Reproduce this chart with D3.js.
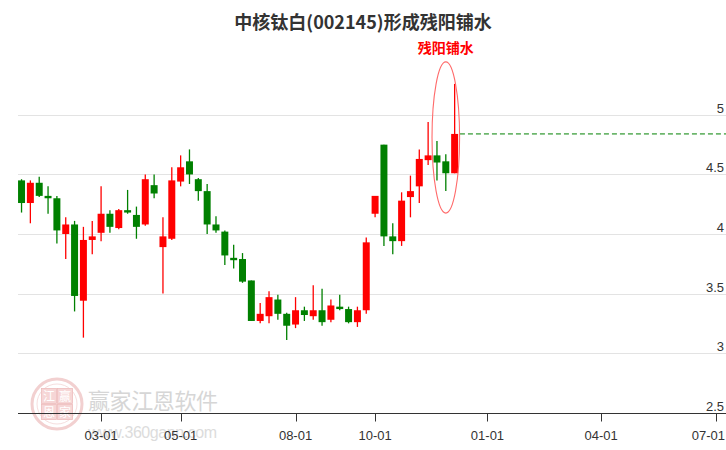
<!DOCTYPE html>
<html><head><meta charset="utf-8">
<script src="https://cdn.jsdelivr.net/npm/d3@7/dist/d3.min.js"></script>
<style>body{margin:0;background:#fff}svg{display:block}</style>
</head><body><svg id="c" width="726" height="450"></svg>
<script>
// ---- data (weekly bars, labelled by week-ending Sunday) ----
const weekDates = ["2019-12-22","2019-12-29","2020-01-05","2020-01-12","2020-01-19","2020-01-26",
  "2020-02-09","2020-02-16","2020-02-23","2020-03-01","2020-03-08","2020-03-15","2020-03-22","2020-03-29",
  "2020-04-05","2020-04-12","2020-04-19","2020-04-26","2020-05-03","2020-05-10","2020-05-17","2020-05-24",
  "2020-05-31","2020-06-07","2020-06-14","2020-06-21","2020-06-28","2020-07-05","2020-07-12","2020-07-19",
  "2020-07-26","2020-08-02","2020-08-09","2020-08-16","2020-08-23","2020-08-30","2020-09-06","2020-09-13",
  "2020-09-20","2020-09-27","2020-10-04","2020-10-11","2020-10-18","2020-10-25","2020-11-01","2020-11-08",
  "2020-11-15","2020-11-22","2020-11-29","2020-12-06"];
const openP  = [4.45,4.26,4.43,4.32,4.30,4.00,4.08,3.44,3.95,4.01,4.17,4.05,4.20,4.16,4.08,4.41,3.89,3.96,4.44,4.61,
  4.46,4.36,4.08,4.02,3.80,3.79,3.61,3.27,3.31,3.45,3.33,3.24,3.36,3.31,3.36,3.28,3.39,3.37,3.26,3.36,
  4.17,4.75,3.98,3.94,4.31,4.40,4.62,4.66,4.61,4.51];
const highP  = [4.46,4.45,4.48,4.40,4.32,4.14,4.11,4.06,4.11,4.40,4.20,4.21,4.37,4.23,4.50,4.50,4.14,4.56,4.66,4.71,
  4.47,4.42,4.15,4.03,3.91,3.84,3.61,3.42,3.52,3.49,3.34,3.47,3.39,3.57,3.54,3.45,3.49,3.39,3.39,3.97,
  4.32,4.75,4.09,4.35,4.49,4.71,4.94,4.78,4.67,5.26];
const lowP   = [4.18,4.09,4.31,4.17,3.92,3.79,3.35,3.13,3.83,3.94,4.01,4.04,4.17,3.96,4.07,4.30,3.50,3.95,4.40,4.42,
  4.28,4.00,4.01,3.74,3.71,3.59,3.27,3.25,3.25,3.28,3.11,3.21,3.27,3.28,3.23,3.26,3.36,3.25,3.22,3.33,
  4.14,3.90,3.83,3.90,4.14,4.26,4.58,4.45,4.36,4.51];
const closeP = [4.26,4.43,4.32,4.30,4.03,4.08,3.48,3.95,3.98,4.17,4.06,4.20,4.18,4.06,4.46,4.34,3.98,4.45,4.56,4.50,
  4.36,4.08,4.03,3.82,3.78,3.60,3.27,3.33,3.47,3.33,3.23,3.36,3.32,3.36,3.26,3.40,3.37,3.26,3.36,3.93,
  4.32,3.98,3.94,4.28,4.36,4.63,4.66,4.60,4.51,4.84];
const yTicks = [2.5, 3, 3.5, 4, 4.5, 5];
const xTickDates  = ["2020-03-01","2020-05-01","2020-08-01","2020-10-01","2021-01-01","2021-04-01","2021-07-01"];
const xTickLabels = ["03-01","05-01","08-01","10-01","01-01","04-01","07-01"];
const titleText = "中核钛白(002145)形成残阳铺水";
const patternText = "残阳铺水";

// ---- layout ----
const W = 726, H = 450;
const left = 18, right = 726, bottom = 412.7;
const UP = "#ff0000", DOWN = "#008000";
const svg = d3.select("#c");
const parse = d3.timeParse("%Y-%m-%d");
const bars = weekDates.map(parse);
const n = bars.length;
const x = d3.scaleLinear().domain([-0.4, 79.7]).range([left, right]);
const y = d3.scaleLinear().domain([2.5, 5.5]).range([bottom, 55.3]);
const step = x(1) - x(0);
function dateToIndex(d) {
  const last = bars[n - 1];
  if (d > last) return n - 1 + (d - last) / (7 * 864e5);
  return bars.findIndex(b => b >= d);
}

// watermark
const wm = svg.append("g");
wm.append("circle").attr("cx", 57).attr("cy", 404).attr("r", 25)
  .attr("fill", "none").attr("stroke", "#f2d0d0").attr("stroke-width", 3);
wm.append("circle").attr("cx", 57).attr("cy", 404).attr("r", 20)
  .attr("fill", "none").attr("stroke", "#f6dede").attr("stroke-width", 1);
const wmChars = [["江",-8,-8],["赢",8,-8],["恩",-8,8],["家",8,8]];
wmChars.forEach(([c,dx,dy]) => {
  wm.append("rect").attr("x", 57+dx-7.5).attr("y", 404+dy-7.5).attr("width", 15).attr("height", 15)
    .attr("fill", "#f6d6d6").attr("stroke", "#eebcbc").attr("stroke-width", 0.8);
  wm.append("text").attr("x", 57+dx).attr("y", 404+dy+4.5).attr("text-anchor", "middle")
    .attr("font-family", "Noto Sans CJK SC").attr("font-size", 12).attr("fill", "#fff").text(c);
});
wm.append("text").attr("x", 88).attr("y", 409).attr("font-family", "Noto Sans CJK SC")
  .attr("font-size", 22).attr("fill", "#d6d6d6").attr("textLength", 130).text("赢家江恩软件");
wm.append("text").attr("x", 88).attr("y", 438).attr("font-family", "Liberation Sans, Arial")
  .attr("font-size", 16).attr("fill", "#dcdcdc").attr("textLength", 129).text("www.360gann.com");

// gridlines
svg.append("g").selectAll("line").data(yTicks.filter(v => v > 2.5)).join("line")
  .attr("x1", left).attr("x2", right)
  .attr("y1", d => Math.round(y(d)) + 0.5).attr("y2", d => Math.round(y(d)) + 0.5)
  .attr("stroke", "#e3e3e3").attr("stroke-width", 1);

// y labels
svg.append("g").selectAll("text").data(yTicks).join("text")
  .attr("x", 724).attr("y", d => y(d) - 2).attr("text-anchor", "end")
  .attr("font-family", "Liberation Sans, Arial").attr("font-size", 13).attr("fill", "#333")
  .text(d => d3.format("~g")(d));

// x axis
const axisY = Math.round(bottom) + 0.5;
svg.append("line").attr("x1", left).attr("x2", right).attr("y1", axisY).attr("y2", axisY)
  .attr("stroke", "#333").attr("stroke-width", 1);
const ticks = xTickDates.map((d, i) => ({ x: x(dateToIndex(parse(d))), label: xTickLabels[i] }));
const tg = svg.append("g").selectAll("g").data(ticks).join("g");
tg.append("line").attr("x1", d => Math.round(d.x) + 0.5).attr("x2", d => Math.round(d.x) + 0.5)
  .attr("y1", axisY).attr("y2", axisY + 8).attr("stroke", "#333");
tg.append("text").attr("y", 440).attr("text-anchor", "middle")
  .attr("font-family", "Liberation Sans, Arial").attr("font-size", 13).attr("fill", "#333")
  .text(d => d.label)
  .attr("x", function(d) {
    const w = this.getComputedTextLength();
    return Math.min(d.x, W - 1 - w / 2);
  });

// candles
const idx = d3.range(n);
const bodyW = step * 0.79;
const cg = svg.append("g").selectAll("g").data(idx).join("g");
const col = i => closeP[i] >= openP[i] ? UP : DOWN;
cg.append("line")
  .attr("x1", i => x(i)).attr("x2", i => x(i))
  .attr("y1", i => y(highP[i])).attr("y2", i => y(lowP[i]))
  .attr("stroke", col).attr("stroke-width", 1.3);
cg.append("rect")
  .attr("x", i => x(i) - bodyW / 2).attr("width", bodyW)
  .attr("y", i => y(Math.max(openP[i], closeP[i])))
  .attr("height", i => Math.max(1.5, Math.abs(y(openP[i]) - y(closeP[i]))))
  .attr("fill", col);

// dashed level line from last close
const lastClose = closeP[n - 1];
svg.append("line").attr("x1", x(n - 1) + step * 0.6).attr("x2", right)
  .attr("y1", y(lastClose)).attr("y2", y(lastClose))
  .attr("stroke", DOWN).attr("stroke-width", 1).attr("stroke-dasharray", "5,3");

// ellipse around the pattern (last three bars)
const pat = [n - 3, n - 2, n - 1];
const pHi = d3.max(pat, i => highP[i]), pLo = d3.min(pat, i => lowP[i]);
const cy = (y(pHi) + y(pLo)) / 2, ry = (y(pLo) - y(pHi)) / 2 + 22;
const cx = x(n - 2);
svg.append("ellipse").attr("cx", cx).attr("cy", cy).attr("rx", step * 1.56).attr("ry", ry)
  .attr("fill", "none").attr("stroke", "#ff6a6a").attr("stroke-width", 1.1);
svg.append("text").attr("x", cx).attr("y", cy - ry - 9).attr("text-anchor", "middle")
  .attr("font-family", "Noto Sans CJK SC").attr("font-weight", "bold").attr("font-size", 14)
  .attr("fill", "#ff0000").text(patternText);

// title
svg.append("text").attr("x", W / 2).attr("y", 29).attr("text-anchor", "middle")
  .attr("font-family", "Noto Sans CJK SC").attr("font-weight", "bold").attr("font-size", 18)
  .attr("fill", "#333").text(titleText);
</script>
</body></html>
